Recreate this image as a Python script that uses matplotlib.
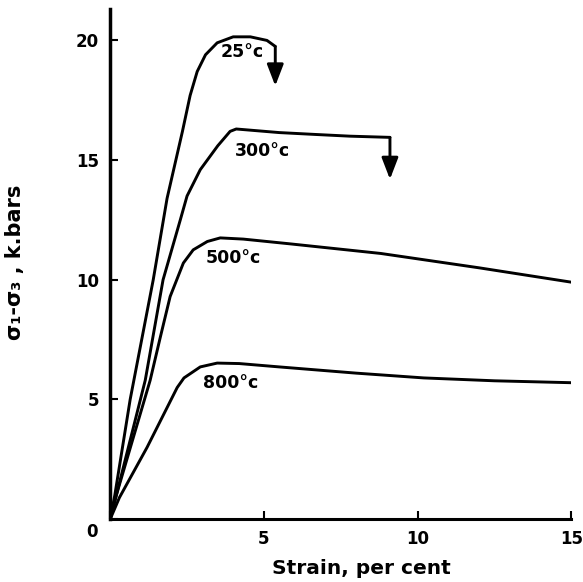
import matplotlib
matplotlib.use("Agg")
import matplotlib.pyplot as plt

# stress-strain curves (strain %, stress kbar)
strain25 = [0, 0.15, 0.65, 1.4, 1.85, 2.35, 2.6, 2.83, 3.1, 3.48, 4.0, 4.56, 5.1, 5.37]
stress25 = [0, 1.0, 5.0, 10.0, 13.4, 16.2, 17.7, 18.7, 19.4, 19.9, 20.15, 20.15, 20.0, 19.75]

strain300 = [0, 0.2, 1.14, 1.72, 2.28, 2.5, 2.93, 3.5, 3.9, 4.1, 5.5, 6.7, 7.8, 9.1]
stress300 = [0, 1.0, 5.8, 10.0, 12.5, 13.5, 14.6, 15.6, 16.2, 16.3, 16.15, 16.07, 16.0, 15.95]

strain500 = [0, 0.2, 1.3, 1.63, 1.95, 2.38, 2.7, 3.16, 3.58, 4.33, 5.86, 8.8, 12.0, 15.0]
stress500 = [0, 1.0, 5.8, 7.6, 9.3, 10.7, 11.25, 11.6, 11.75, 11.7, 11.5, 11.1, 10.5, 9.9]

strain800 = [0, 0.3, 1.2, 2.18, 2.4, 2.93, 3.48, 4.2, 5.5, 8.0, 10.2, 12.5, 15.0]
stress800 = [0, 0.9, 3.0, 5.5, 5.9, 6.36, 6.52, 6.5, 6.36, 6.1, 5.9, 5.78, 5.7]

# failure arrows: (strain, stress at start, stress at tip)
arrow25 = (5.37, 19.75, 18.1)
arrow300 = (9.1, 15.95, 14.2)

labels = ["25°c", "300°c", "500°c", "800°c"]
label_x = [3.58, 4.07, 3.1, 3.03]
label_y = [19.5, 15.4, 10.9, 5.7]

fig = plt.figure(figsize=(5.83, 5.82), dpi=100)
ax = fig.add_axes([0.189, 0.108, 0.791, 0.876])

lw = 2.1
for xs, ys in [(strain25, stress25), (strain300, stress300),
               (strain500, stress500), (strain800, stress800)]:
    ax.plot(xs, ys, color="black", lw=lw, solid_capstyle="round", solid_joinstyle="round")

for xa, y0, y1 in [arrow25, arrow300]:
    ax.annotate("", xy=(xa, y1), xytext=(xa, y0),
                arrowprops=dict(arrowstyle="-|>,head_width=0.5,head_length=1.3",
                                color="black", lw=lw, shrinkA=0, shrinkB=0))

for t, x, y in zip(labels, label_x, label_y):
    ax.text(x, y, t, fontsize=12.5, fontweight="bold", ha="left", va="center")

ax.set_xlim(0, 15)
ax.set_ylim(0, 21.3)
ax.set_xticks([0, 5, 10, 15])
ax.set_xticklabels(["", "5", "10", "15"])
ax.set_yticks([0, 5, 10, 15, 20])
ax.set_yticklabels(["", "5", "10", "15", "20"])
ax.text(-0.6, -0.55, "0", fontsize=12, fontweight="bold", ha="center", va="center")

ax.tick_params(direction="in", length=6, width=1.5, labelsize=12, pad=8)
for lab in ax.get_xticklabels() + ax.get_yticklabels():
    lab.set_fontweight("bold")

ax.spines["top"].set_visible(False)
ax.spines["right"].set_visible(False)
ax.spines["left"].set_linewidth(2.5)
ax.spines["bottom"].set_linewidth(2.2)

ax.set_xlabel("Strain, per cent", fontsize=14.5, fontweight="bold")
ax.xaxis.set_label_coords(0.545, -0.078)
ax.set_ylabel("σ₁-σ₃ , k.bars", fontsize=15, fontweight="bold")
ax.yaxis.set_label_coords(-0.184, 0.504)

fig.savefig("out.png", dpi=100)
